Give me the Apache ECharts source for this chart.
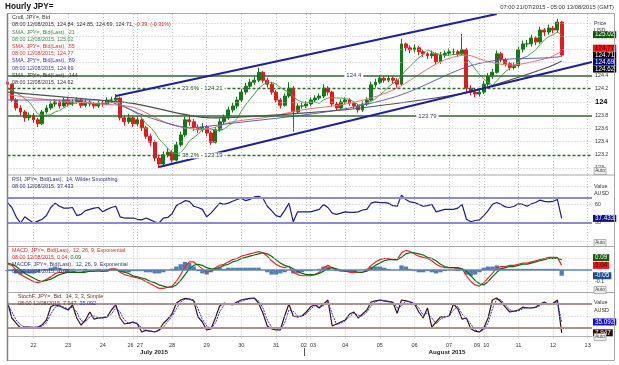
<!DOCTYPE html>
<html><head><meta charset="utf-8">
<script src="https://cdn.jsdelivr.net/npm/echarts@6/dist/echarts.min.js"></script>
<style>html,body{margin:0;padding:0;background:#fff}#c{width:619px;height:365px}</style>
</head><body><div id="c"></div>
<script>
// ---------- DATA (3-hour slots) ----------
const sessions = [['2015-07-21T06:00:00Z', 29], ['2015-07-26T21:00:00Z', 40], ['2015-08-02T21:00:00Z', 40], ['2015-08-09T21:00:00Z', 27]];
const firstOpen = 124.30;
const closes = [124.27,124.03,123.91,123.85,123.76,123.80,123.73,123.67,123.85,123.91,
123.97,124.00,123.94,124.03,123.97,124.00,124.03,123.95,124.00,123.97,
123.94,123.98,123.97,124.03,124.03,124.06,123.76,123.70,123.76,123.67,
123.73,123.61,123.48,123.39,123.15,123.06,123.20,123.24,123.12,123.35,
123.50,123.73,123.70,123.61,123.58,123.62,123.53,123.39,123.58,123.70,
123.76,123.88,123.94,124.03,124.15,124.24,124.30,124.33,124.45,124.33,
124.27,124.15,124.03,123.95,124.09,124.21,123.85,123.94,123.94,123.97,
124.03,124.06,124.09,124.21,124.15,123.97,123.91,124.00,124.03,123.98,
123.94,123.88,123.97,124.03,124.26,124.30,124.36,124.33,124.36,124.33,
124.27,124.88,124.82,124.79,124.82,124.76,124.73,124.70,124.73,124.61,
124.71,124.74,124.76,124.76,124.73,124.79,124.21,124.15,124.12,124.15,
124.27,124.39,124.45,124.73,124.64,124.58,124.52,124.55,124.79,124.88,
124.88,124.97,124.91,125.09,125.06,125.12,125.09,125.21,124.71];
const highs = [124.33,124.28,124.06,123.95,123.88,123.84,123.83,123.76,123.88,123.95,
124.01,124.04,124.03,124.07,124.06,124.04,124.07,124.05,124.04,124.03,
124.00,124.02,124.03,124.07,124.08,124.12,124.08,123.80,123.82,123.79,
123.78,123.75,123.64,123.52,123.42,123.20,123.25,123.30,123.27,123.40,
123.55,123.78,123.80,123.74,123.66,123.68,123.65,123.56,123.62,123.75,
123.81,123.93,123.99,124.08,124.20,124.29,124.35,124.38,124.52,124.47,
124.37,124.30,124.18,124.06,124.13,124.30,124.24,123.98,123.99,124.01,
124.07,124.10,124.13,124.27,124.24,124.17,124.00,124.04,124.07,124.06,
124.01,123.97,124.01,124.07,124.31,124.35,124.41,124.39,124.40,124.39,
124.36,124.96,124.90,124.86,124.87,124.85,124.79,124.76,124.78,124.75,
124.76,124.78,124.81,124.81,124.79,125.03,124.82,124.25,124.19,124.20,
124.32,124.44,124.50,124.78,124.76,124.67,124.61,124.60,124.84,124.93,
124.94,125.02,125.00,125.14,125.12,125.17,125.15,125.26,125.23];
const lows = [124.22,124.00,123.87,123.80,123.70,123.72,123.68,123.62,123.65,123.82,
123.88,123.93,123.90,123.92,123.93,123.94,123.97,123.91,123.92,123.93,
123.90,123.91,123.93,123.95,123.99,124.00,123.72,123.64,123.67,123.62,
123.63,123.56,123.44,123.33,123.10,123.00,123.03,123.16,123.08,123.10,
123.32,123.47,123.64,123.56,123.53,123.54,123.48,123.35,123.37,123.55,
123.66,123.73,123.84,123.90,124.00,124.11,124.20,124.26,124.30,124.29,
124.22,124.11,123.99,123.90,123.93,124.06,123.55,123.82,123.90,123.91,
123.94,124.00,124.03,124.06,124.10,123.93,123.87,123.88,123.97,123.94,
123.90,123.84,123.85,123.94,124.01,124.22,124.27,124.29,124.30,124.28,
124.22,124.25,124.77,124.74,124.75,124.71,124.68,124.65,124.66,124.57,
124.58,124.67,124.70,124.71,124.68,124.70,124.15,124.10,124.07,124.08,
124.12,124.24,124.35,124.43,124.60,124.54,124.48,124.49,124.52,124.75,
124.83,124.84,124.86,124.88,125.00,125.02,125.04,125.05,124.69];
const sma21 = [124.20,124.18,124.14,124.10,124.05,124.00,123.91,123.82,123.80,123.80,
123.81,123.85,123.87,123.91,123.95,123.97,123.99,123.99,123.99,123.99,
123.98,123.98,123.98,123.98,123.99,124.00,123.97,123.93,123.90,123.86,
123.82,123.76,123.67,123.62,123.54,123.44,123.37,123.30,123.23,123.22,
123.23,123.31,123.41,123.46,123.51,123.58,123.61,123.59,123.57,123.57,
123.59,123.64,123.68,123.75,123.86,123.96,124.04,124.12,124.21,124.26,
124.30,124.30,124.27,124.22,124.18,124.15,124.08,124.03,124.00,123.99,
124.00,124.00,123.98,124.03,124.06,124.07,124.06,124.06,124.05,124.04,
124.00,123.96,123.96,123.98,124.01,124.05,124.11,124.16,124.23,124.28,
124.32,124.40,124.48,124.54,124.61,124.67,124.72,124.79,124.76,124.73,
124.72,124.71,124.71,124.72,124.72,124.73,124.67,124.59,124.50,124.42,
124.35,124.30,124.25,124.32,124.39,124.46,124.51,124.55,124.61,124.67,
124.69,124.74,124.79,124.87,124.94,124.99,125.02,125.06,125.02];
const sma55 = [[0,124.11],[10,124.03],[21,123.97],[29,123.92],[37,123.68],[45,123.58],[52,123.70],[60,123.77],[68,123.88],[79,123.98],[89,124.18],[100,124.61],[106,124.71],[111,124.61],[116,124.56],[125,124.67],[128,124.77]];
const sma89 = [[0,124.03],[21,124.03],[33,123.76],[42,123.61],[52,123.68],[68,123.80],[79,123.91],[91,124.11],[106,124.53],[114,124.64],[125,124.67],[128,124.69]];
const sma144 = [[0,124.15],[21,124.03],[29,123.98],[47,123.76],[68,123.83],[83,123.92],[106,124.14],[114,124.29],[125,124.53],[128,124.62]];
const rsi = [63,55,40,30,40,35,30,33,36,42,
55,62,57,54,54,55,42,44,50,52,
54,55,48,52,55,57,40,38,38,38,
36,35,38,35,32,30,38,39,45,58,
62,66,65,57,55,52,40,46,54,62,
60,62,65,68,70,66,68,72,73,70,
57,50,42,40,50,62,32,48,48,48,
48,50,52,60,55,46,44,46,48,47,
47,48,51,52,62,64,63,63,62,58,
57,75,68,64,63,60,57,58,60,48,
50,52,52,52,54,60,36,32,34,35,
42,50,60,63,60,56,55,57,61,60,
57,61,63,67,65,64,65,68,37.433];
const macd = [0.05,0.04,0.0,-0.04,-0.06,-0.08,-0.10,-0.11,-0.10,-0.08,
-0.06,-0.03,-0.02,-0.02,-0.01,-0.01,-0.02,-0.02,-0.01,-0.01,
-0.01,0.0,-0.01,0.0,0.01,0.01,-0.02,-0.04,-0.05,-0.06,
-0.07,-0.08,-0.10,-0.12,-0.14,-0.16,-0.16,-0.15,-0.14,-0.10,
-0.04,0.03,0.07,0.07,0.04,0.01,-0.02,-0.01,0.02,0.04,
0.05,0.07,0.09,0.10,0.12,0.13,0.14,0.15,0.16,0.15,
0.12,0.08,0.05,0.03,0.02,0.03,-0.02,-0.04,-0.05,-0.05,
-0.05,-0.04,-0.02,0.02,0.04,0.02,0.0,-0.01,-0.01,-0.02,
-0.02,-0.02,-0.02,0.0,0.04,0.07,0.09,0.10,0.10,0.09,
0.09,0.15,0.17,0.16,0.14,0.12,0.11,0.10,0.08,0.05,
0.03,0.02,0.02,0.02,0.01,0.01,-0.05,-0.10,-0.13,-0.14,
-0.11,-0.07,-0.03,0.02,0.03,0.03,0.04,0.04,0.05,0.06,
0.06,0.07,0.08,0.09,0.10,0.11,0.11,0.11,0.04];
const signal = [0.06,0.05,0.03,0.0,-0.03,-0.05,-0.07,-0.09,-0.10,-0.09,
-0.08,-0.06,-0.04,-0.03,-0.02,-0.02,-0.02,-0.02,-0.02,-0.01,
-0.01,-0.01,-0.01,-0.01,0.0,0.0,-0.01,-0.02,-0.03,-0.05,
-0.06,-0.07,-0.08,-0.10,-0.11,-0.13,-0.14,-0.15,-0.15,-0.13,
-0.09,-0.04,0.01,0.04,0.05,0.04,0.02,0.01,0.01,0.02,
0.04,0.05,0.07,0.08,0.10,0.11,0.12,0.13,0.14,0.15,
0.14,0.12,0.09,0.06,0.04,0.03,0.01,-0.01,-0.03,-0.04,
-0.04,-0.04,-0.03,-0.01,0.01,0.02,0.01,0.0,-0.01,-0.01,
-0.01,-0.02,-0.02,-0.01,0.01,0.04,0.06,0.08,0.09,0.09,
0.09,0.11,0.14,0.15,0.15,0.14,0.13,0.11,0.10,0.08,
0.05,0.03,0.02,0.02,0.02,0.01,-0.01,-0.05,-0.09,-0.12,
-0.13,-0.10,-0.06,-0.02,0.01,0.02,0.03,0.03,0.04,0.05,
0.05,0.06,0.07,0.08,0.09,0.10,0.10,0.10,0.09];
const macdHist = [-0.01,-0.01,-0.03,-0.04,-0.03,-0.03,-0.03,-0.02,0.0,0.01,
0.02,0.03,0.02,0.01,0.01,0.01,0.0,0.0,0.01,0.0,
0.0,0.01,0.0,0.01,0.01,0.01,-0.01,-0.02,-0.02,-0.01,
-0.01,-0.01,-0.02,-0.02,-0.03,-0.03,-0.02,0.0,0.01,0.03,
0.05,0.07,0.06,0.03,-0.01,-0.03,-0.04,-0.02,0.01,0.02,
0.01,0.02,0.02,0.02,0.02,0.02,0.02,0.02,0.02,0.0,
-0.02,-0.04,-0.04,-0.03,-0.02,0.0,-0.03,-0.03,-0.02,-0.01,
-0.01,0.0,0.01,0.03,0.03,0.0,-0.01,-0.01,0.0,-0.01,
-0.01,0.0,0.0,0.01,0.03,0.03,0.03,0.02,0.01,0.0,
0.0,0.04,0.03,0.01,-0.01,-0.02,-0.02,-0.01,-0.02,-0.03,
-0.02,-0.01,0.0,0.0,-0.01,0.0,-0.04,-0.05,-0.04,-0.02,
0.02,0.03,0.03,0.04,0.02,0.01,0.01,0.01,0.01,0.01,
0.01,0.01,0.01,0.01,0.01,0.01,0.01,0.01,-0.05];
const stochK = [85,45,32,20,22,22,21,22,28,40,
73,78,75,70,65,78,45,27,40,60,
42,45,46,48,65,78,45,30,32,35,
30,10,14,12,10,15,32,42,55,82,
90,94,92,88,48,35,15,18,45,75,
82,80,78,85,90,92,94,95,82,57,
25,18,15,15,50,80,50,48,50,60,
73,78,70,80,90,25,30,35,40,55,
60,45,55,65,85,88,90,88,86,84,
57,90,88,85,80,60,45,70,22,35,
48,48,50,80,68,42,45,18,12,10,
20,45,90,95,85,72,60,62,65,72,
70,70,72,80,85,78,82,90,7.947];
const stochD = [80,60,40,28,22,22,22,22,25,33,
55,72,76,72,68,72,60,38,35,48,
50,45,45,47,55,70,60,40,32,33,
32,20,14,12,11,13,22,36,48,68,
85,92,93,90,68,42,25,18,32,60,
78,81,79,82,87,91,93,94,88,70,
40,22,17,15,32,65,62,50,49,55,
67,76,74,76,85,55,28,32,38,48,
57,52,50,60,75,86,89,89,87,85,
70,75,88,86,82,70,52,58,45,30,
42,48,49,65,74,55,44,30,15,11,
15,33,68,92,90,78,66,61,63,68,
71,70,71,76,82,81,80,86,35.092];
const levels = [124.4, 124.21, 123.79, 123.19];
const levelTexts = ['124.4', '23.6% - 124.21', '123.79', '38.2% - 123.19'];
const channelUpper = [[24.9, 124.09], [113.1, 125.333]];
const channelLower = [[34.85, 123.015], [135, 124.606]];
const priceTicks = [123, 123.2, 123.4, 123.6, 123.8, 124, 124.2, 124.4, 124.6, 124.8, 125];
const priceGrid = [123, 123.4, 123.6, 124, 124.6, 124.8, 125, 125.2];

// ---------- BUILD ----------
const categories = [];
sessions.forEach(([s, n]) => { const t0 = Date.parse(s); for (let i = 0; i < n; i++) { categories.push(new Date(t0 + i * 3 * 3600e3).toISOString().slice(0, 13) + ':00'); } });
const dayStart = categories.map((c, i) => i > 0 && c.slice(0, 10) !== categories[i - 1].slice(0, 10));
const candles = closes.map((c, i) => [i === 0 ? firstOpen : closes[i - 1], c, lows[i], highs[i]]);

const FF = 'Liberation Sans, Arial, sans-serif';
const dotted = { color: '#c2c2c2', type: [1, 2], width: 1 };
function box(v, text, bg, fg, dy) {
  return { yAxis: v, lineStyle: { color: 'rgba(0,0,0,0)', width: 0 }, label: { show: true, position: 'end', distance: 1, formatter: text, backgroundColor: bg, color: fg, fontSize: 6.3, fontFamily: FF, padding: [1, 2, 0, 2], offset: [0, dy || 0] } };
}
function gl(v) { return { yAxis: v, lineStyle: dotted, label: { show: false } }; }
function band(v, color, w) { return { yAxis: v, lineStyle: { color: color, width: w, type: 'solid' }, label: { show: false } }; }

const grids = [[14, 161], [175, 71.5], [246.5, 46], [292.5, 46.5]];
const xAxes = grids.map((g, i) => ({
  type: 'category', gridIndex: i, data: categories, boundaryGap: false,
  axisLine: { show: i === 3, lineStyle: { color: '#b0b0b0' } }, axisTick: { show: false },
  axisLabel: {
    show: i === 3, interval: (idx) => dayStart[idx], hideOverlap: false, margin: 3, color: '#333', fontSize: 5.5, fontFamily: FF,
    formatter: (v, idx) => { const d = v.slice(8, 10); if (dayStart[idx + 1]) return '{l|' + d + '}'; if (dayStart[idx - 1]) return '{r|' + d + '}'; return '{n|' + d + '}'; },
    rich: { l: { fontSize: 5.5, padding: [0, 5, 0, 0], color: '#333' }, r: { fontSize: 5.5, padding: [0, 0, 0, 5], color: '#333' }, n: { fontSize: 5.5, color: '#333' } }
  },
  splitLine: { show: true, interval: (idx) => dayStart[idx], lineStyle: dotted }
}));
const yBase = { type: 'value', position: 'right', axisLine: { show: false }, axisTick: { show: false }, splitLine: { show: false } };
const yAxes = [
  Object.assign({}, yBase, { gridIndex: 0, min: 122.894, max: 125.333, axisLabel: { customValues: priceTicks, margin: 3, fontSize: 5.3, color: '#333', fontFamily: FF, formatter: v => Math.abs(v - 124) < 1e-6 ? '{b|124}' : String(+(+v).toFixed(1)), rich: { b: { fontWeight: 'bold', fontSize: 7.5, color: '#000', fontFamily: FF } } } }),
  Object.assign({}, yBase, { gridIndex: 1, min: -7.9, max: 107.42, axisLabel: { customValues: [30, 60], margin: 3, fontSize: 5.3, color: '#333', fontFamily: FF } }),
  Object.assign({}, yBase, { gridIndex: 2, min: -0.1957, max: 0.2043, axisLabel: { customValues: [-0.1, 0.1], margin: 3, fontSize: 5.3, color: '#333', fontFamily: FF, formatter: v => (+v).toFixed(1) } }),
  Object.assign({}, yBase, { gridIndex: 3, min: -7.5, max: 108.75, axisLabel: { show: false } })
];

const lvlStyles = [
  { color: '#2f6b2f', width: 1.6, type: 'solid' },
  { color: '#2f6b2f', width: 1.4, type: [3, 2] },
  { color: '#2f6b2f', width: 1.6, type: 'solid' },
  { color: '#2f6b2f', width: 1.4, type: [3, 2] }
];
const lvlLabelSlot = [80, 45, 97, 45];
const lvlLabelColor = ['#3a3a80', '#1f3f1f', '#3a3a80', '#1f3f1f'];

const series = [
  { type: 'candlestick', xAxisIndex: 0, yAxisIndex: 0, data: candles, barWidth: 3.4, z: 2,
    itemStyle: { color: '#127a12', color0: '#e51b1b', borderColor: '#127a12', borderColor0: '#e51b1b', borderWidth: 1 },
    markLine: { silent: true, symbol: ['none', 'none'], animation: false,
      data: priceGrid.map(gl)
        .concat(levels.map((v, i) => ({ yAxis: v, lineStyle: lvlStyles[i], label: { show: false } })))
        .concat([
          [{ coord: channelUpper[0], lineStyle: { color: '#1e1ea6', width: 2, type: 'solid' }, label: { show: false } }, { coord: channelUpper[1] }],
          [{ coord: channelLower[0], lineStyle: { color: '#1e1ea6', width: 2, type: 'solid' }, label: { show: false } }, { coord: channelLower[1] }],
          box(closes[closes.length - 1], closes[closes.length - 1].toFixed(2), '#000', '#fff', 0)
        ]) },
    markPoint: { silent: true, animation: false, symbolSize: 0,
      data: levels.map((v, i) => ({ coord: [lvlLabelSlot[i], v], symbolSize: 0, label: { show: true, position: 'inside', formatter: levelTexts[i], backgroundColor: '#fff', color: lvlLabelColor[i], fontSize: 6, fontFamily: FF, padding: [0, 2] } })) } },
  { type: 'line', xAxisIndex: 0, yAxisIndex: 0, data: sma21, showSymbol: false, z: 3, lineStyle: { color: '#4e9e4e', width: 1 },
    markLine: { silent: true, symbol: ['none', 'none'], data: [box(125.02, '125.02', '#0d5a0d', '#fff', 0)] } },
  { type: 'line', xAxisIndex: 0, yAxisIndex: 0, data: sma55, showSymbol: false, smooth: 0.3, z: 3, lineStyle: { color: '#f06c6c', width: 1 },
    markLine: { silent: true, symbol: ['none', 'none'], data: [box(124.77, '124.77', '#ff1010', '#111', -3)] } },
  { type: 'line', xAxisIndex: 0, yAxisIndex: 0, data: sma89, showSymbol: false, smooth: 0.3, z: 3, lineStyle: { color: '#5c5cc6', width: 1 },
    markLine: { silent: true, symbol: ['none', 'none'], data: [box(124.69, '124.69', '#000080', '#fff', 5.5)] } },
  { type: 'line', xAxisIndex: 0, yAxisIndex: 0, data: sma144, showSymbol: false, smooth: 0.3, z: 3, lineStyle: { color: '#505050', width: 1.2 },
    markLine: { silent: true, symbol: ['none', 'none'], data: [box(124.62, '124.62', '#000', '#fff', 8)] } },
  { type: 'line', xAxisIndex: 1, yAxisIndex: 1, data: rsi, showSymbol: false, lineStyle: { color: '#1c1c8c', width: 1.2 },
    markLine: { silent: true, symbol: ['none', 'none'], data: [gl(0), gl(60), gl(90), band(70, '#8a8ad6', 2), band(30, '#8a8ad6', 2), box(37.433, '37.433', '#10107a', '#fff', 0)] } },
  { type: 'bar', xAxisIndex: 2, yAxisIndex: 2, data: macdHist, barCategoryGap: '0%', itemStyle: { color: '#4f7fb2' },
    markLine: { silent: true, symbol: ['none', 'none'], data: [gl(0.1), gl(-0.1), band(0, '#5a86b5', 1.5), box(-0.05, '-0.05', '#1f4f8f', '#fff', 0)] } },
  { type: 'line', xAxisIndex: 2, yAxisIndex: 2, data: macd, showSymbol: false, lineStyle: { color: '#ff2020', width: 1.2 },
    markLine: { silent: true, symbol: ['none', 'none'], data: [box(0.04, '0.04', '#ff1010', '#111', 0)] } },
  { type: 'line', xAxisIndex: 2, yAxisIndex: 2, data: signal, showSymbol: false, lineStyle: { color: '#0b6b0b', width: 1.2 },
    markLine: { silent: true, symbol: ['none', 'none'], data: [box(0.09, '0.09', '#0b5e0b', '#fff', -2)] } },
  { type: 'line', xAxisIndex: 3, yAxisIndex: 3, data: stochK, showSymbol: false, lineStyle: { color: '#3a1212', width: 1.2 },
    markLine: { silent: true, symbol: ['none', 'none'], data: [gl(50), band(80, '#ad9494', 2), band(20, '#ad9494', 2), box(7.947, '7.947', '#3a0808', '#fff', 0)] } },
  { type: 'line', xAxisIndex: 3, yAxisIndex: 3, data: stochD, showSymbol: false, lineStyle: { color: '#2a2aff', width: 1, type: [2, 1] },
    markLine: { silent: true, symbol: ['none', 'none'], data: [box(35.092, '35.092', '#1010c8', '#fff', 0)] } }
];

// ---------- decorations (text) ----------
const G = [];
function T(x, y, text, size, fill, extra) { G.push({ type: 'text', x: x, y: y, silent: true, z: 100, style: Object.assign({ text: text, fontSize: size, fontFamily: FF, fill: fill, verticalAlign: 'middle', align: 'left' }, extra || {}) }); }
function L(x1, y1, x2, y2, c, w) { G.push({ type: 'line', silent: true, z: 90, shape: { x1: x1, y1: y1, x2: x2, y2: y2 }, style: { stroke: c, lineWidth: w } }); }

G.push({ type: 'rect', silent: true, z: 90, shape: { x: 7.5, y: 13.5, width: 607, height: 347 }, style: { fill: 'none', stroke: '#a8a8a8', lineWidth: 1 } });
L(7.5, 13.5, 7.5, 361, '#808080', 1.5);
L(7.5, 175, 615, 175, '#a8a8a8', 1.2);
L(7.5, 246.5, 615, 246.5, '#a8a8a8', 1.2);
L(7.5, 292.5, 615, 292.5, '#a8a8a8', 1.2);
L(304.5, 348, 304.5, 356, '#555', 1);

T(5, 7, 'Hourly JPY=', 8.2, '#111', { fontWeight: 'bold' });
T(614, 7, '07:00 21/07/2015 - 05:00 13/08/2015 (GMT)', 5.8, '#333', { align: 'right' });

const LS = 5.4;
T(12, 17.5, 'Cndl, JPY=, Bid', LS, '#333');
T(12, 25, '{a|08:00 12/08/2015, 124.84, 124.85, 124.69, 124.71, }{b|-0.39, (-0.31%)}', LS, '#333', { rich: { a: { fill: '#333', fontSize: LS, fontFamily: FF }, b: { fill: '#ee2222', fontSize: LS, fontFamily: FF } } });
T(12, 32.3, 'SMA, JPY=, Bid(Last),  21', LS, '#3d8b3d');
T(12, 39.5, '08:00 12/08/2015, 125.02', LS, '#3d8b3d');
T(12, 46.6, 'SMA, JPY=, Bid(Last),  55', LS, '#e83030');
T(12, 53.8, '08:00 12/08/2015, 124.77', LS, '#e83030');
T(12, 61, 'SMA, JPY=, Bid(Last),  89', LS, '#3a3aa0');
T(12, 68.2, '08:00 12/08/2015, 124.69', LS, '#3a3aa0');
T(12, 75.5, 'SMA, JPY=, Bid(Last),  144', LS, '#333');
T(12, 82.6, '08:00 12/08/2015, 124.62', LS, '#333');

T(12, 180, 'RSI, JPY=, Bid(Last),  14, Wilder Smoothing', LS, '#2b2b8c');
T(12, 187, '08:00 12/08/2015, 37.433', LS, '#2b2b8c');
T(12, 251, 'MACD, JPY=, Bid(Last),  12, 26, 9, Exponential', LS, '#ee2222');
T(12, 258, '{a|08:00 12/08/2015, 0.04, }{b|0.09}', LS, '#ee2222', { rich: { a: { fill: '#ee2222', fontSize: LS, fontFamily: FF }, b: { fill: '#0b6b0b', fontSize: LS, fontFamily: FF } } });
T(12, 265, 'MACDF, JPY=, Bid(Last),  12, 26, 9, Exponential', LS, '#2b3b7c');
T(12, 272, '08:00 12/08/2015, -0.05', LS, '#2b3b7c');
T(18, 296.5, 'StochF, JPY=, Bid,  14, 3, 3, Simple', LS, '#6b3030');
T(18, 303.5, '{a|08:00 12/08/2015, 7.947, }{b|35.092}', LS, '#6b3030', { rich: { a: { fill: '#6b3030', fontSize: LS, fontFamily: FF }, b: { fill: '#2222dd', fontSize: LS, fontFamily: FF } } });

T(594, 24, 'Price', LS, '#333');
T(594, 31, 'USD', LS, '#333');
T(594, 187, 'Value', LS, '#333');
T(594, 194, 'AUSD', LS, '#333');
T(594, 303, 'Value', LS, '#333');
T(594, 310.5, 'AUSD', LS, '#333');
[171, 243, 290, 337].forEach(y => {
  G.push({ type: 'rect', silent: true, z: 95, shape: { x: 594, y: y - 3.5, width: 12, height: 7 }, style: { fill: '#eeeeee', stroke: '#888', lineWidth: 0.6 } });
  T(595.3, y, 'Auto', 4.6, '#444');
});
T(154, 352.5, 'July 2015', 6.2, '#222', { align: 'center', fontWeight: 'bold' });
T(447, 352.5, 'August 2015', 6.2, '#222', { align: 'center', fontWeight: 'bold' });

const chart = echarts.init(document.getElementById('c'), null, { renderer: 'canvas' });
chart.setOption({
  animation: false,
  backgroundColor: '#fff',
  textStyle: { fontFamily: FF },
  grid: grids.map(g => ({ left: 7.5, right: 27, top: g[0], height: g[1], containLabel: false, outerBoundsMode: 'none' })),
  xAxis: xAxes, yAxis: yAxes, series: series, graphic: G
});
</script></body></html>
